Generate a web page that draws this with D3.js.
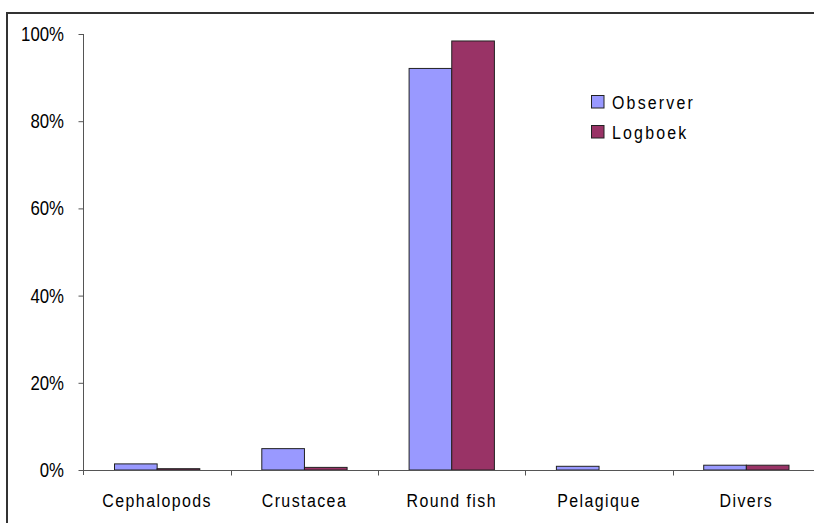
<!DOCTYPE html>
<html>
<head>
<meta charset="utf-8">
<script src="https://cdn.jsdelivr.net/npm/d3@7"></script>
<style>
html, body { margin: 0; padding: 0; background: #fff; }
svg { display: block; }
text { font-family: "Liberation Sans", Arial, sans-serif; fill: #000; }
</style>
</head>
<body>
<svg id="chart" width="814" height="523"></svg>
<script>
const categories = ["Cephalopods", "Crustacea", "Round fish", "Pelagique", "Divers"];
const seriesNames = ["Observer", "Logboek"];
const observerValues = [0.014, 0.049, 0.921, 0.0085, 0.011];
const logboekValues = [0.003, 0.006, 0.984, 0.0, 0.011];
const yTickValues = [0, 0.2, 0.4, 0.6, 0.8, 1.0];
const colors = ["#9999FF", "#993366"];

const svg = d3.select("#chart");
const SX = 0.84;

// outer frame
svg.append("rect")
  .attr("x", 7).attr("y", 13)
  .attr("width", 830).attr("height", 530)
  .attr("fill", "none").attr("stroke", "#333").attr("stroke-width", 2);

const x0 = d3.scaleBand().domain(categories).range([83.5, 820]).paddingInner(0).paddingOuter(0);
const x1 = d3.scaleBand().domain(seriesNames).range([31, x0.bandwidth() - 31]).padding(0);
const y = d3.scaleLinear().domain([0, 1]).range([470, 34]);

const data = categories.map((c, i) => ({ cat: c, vals: [observerValues[i], logboekValues[i]] }));

// bars
const groups = svg.append("g").selectAll("g").data(data).join("g")
  .attr("transform", d => `translate(${x0(d.cat)},0)`);
groups.selectAll("rect")
  .data(d => d.vals.map((v, j) => ({ v, s: seriesNames[j], j })).filter(e => e.v > 0))
  .join("rect")
  .attr("x", e => x1(e.s))
  .attr("width", x1.bandwidth())
  .attr("y", e => y(e.v))
  .attr("height", e => y(0) - y(e.v))
  .attr("fill", e => colors[e.j])
  .attr("stroke", "#222")
  .attr("stroke-width", 1);

// y axis
const yAxis = d3.axisLeft(y).tickValues(yTickValues).tickSize(5).tickFormat("");
const gy = svg.append("g").attr("transform", "translate(83.5,0)").call(yAxis);
gy.select(".domain").attr("stroke", "#555").attr("d", "M0,34V475");
gy.selectAll(".tick line").attr("stroke", "#555");
const fmt = d3.format(".0%");
svg.append("g").selectAll("text").data(yTickValues).join("text")
  .attr("transform", d => `translate(64,${y(d) + 7}) scale(${SX},1)`)
  .attr("text-anchor", "end")
  .attr("font-size", 20)
  .text(d => fmt(d));

// x axis
const gx = svg.append("g").attr("transform", "translate(0,470.5)");
gx.append("line").attr("x1", 83.5).attr("x2", 820).attr("stroke", "#555");
const boundaries = categories.slice(1).map(c => x0(c));
gx.selectAll("line.tk").data(boundaries).join("line").attr("class", "tk")
  .attr("x1", d => Math.round(d) + 0.5).attr("x2", d => Math.round(d) + 0.5)
  .attr("y1", 0).attr("y2", 5).attr("stroke", "#555");
gx.selectAll("text").data(categories).join("text")
  .attr("transform", d => `translate(${x0(d) + x0.bandwidth() / 2},36) scale(${SX},1)`)
  .attr("text-anchor", "middle")
  .attr("font-size", 19)
  .attr("letter-spacing", "1.7px")
  .text(d => d);

// legend
const legend = svg.append("g").attr("transform", "translate(591,95)");
seriesNames.forEach((s, i) => {
  const g = legend.append("g").attr("transform", `translate(0,${i * 30})`);
  g.append("rect").attr("x", 0.5).attr("y", 0.5).attr("width", 12.5).attr("height", 12.5)
    .attr("fill", colors[i]).attr("stroke", "#222");
  g.append("text").attr("transform", `translate(21,14) scale(${SX},1)`).attr("font-size", 19)
    .attr("letter-spacing", "2.6px").text(s);
});
</script>
</body>
</html>
